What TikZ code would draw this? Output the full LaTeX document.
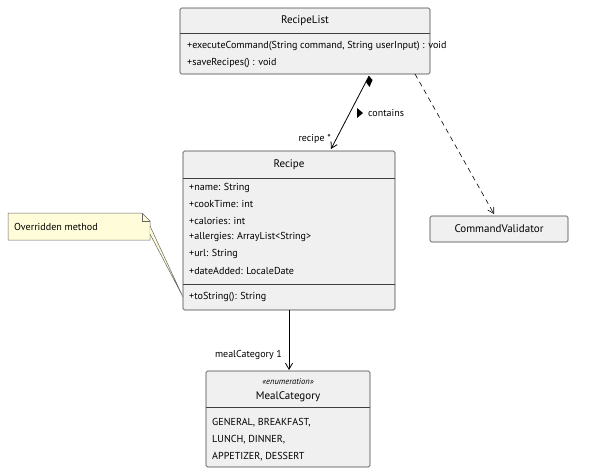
\documentclass[tikz,border=0pt]{standalone}
\usepackage{fontspec}
\setmainfont{PT Sans}
\usetikzlibrary{arrows.meta}
\begin{document}
\begin{tikzpicture}[x=1pt,y=-1pt,
  box/.style={draw=black!75,fill=black!6,rounded corners=1.5pt,line width=0.6pt},
  txt/.style={anchor=west,inner sep=0pt,font=\fontsize{10.1}{12}\selectfont},
  ttl/.style={inner sep=0pt,font=\fontsize{11}{13}\selectfont},
  lbl/.style={inner sep=0pt,font=\fontsize{10}{12}\selectfont}]
\useasboundingbox (0,0) rectangle (616,474);
% RecipeList
\draw[box] (180,8) rectangle (430,74);
\draw[black!75,line width=0.6pt] (180,33)--(430,33);
\node[ttl] (rlt) at (305,21) {RecipeList};
\node[txt] (rl1) at (187,46) {+executeCommand(String command, String userInput) : void};
\node[txt] (rl2) at (187,63) {+saveRecipes() : void};
% Recipe
\draw[box] (183,151) rectangle (395,310);
\draw[black!75,line width=0.6pt] (183,178)--(395,178) (183,284)--(395,284);
\node[ttl] (rt) at (289,165) {Recipe};
\foreach \t [count=\i] in {+name: String,+cookTime: int,+calories: int,+allergies: ArrayList<String>,+url: String,+dateAdded: LocaleDate}
  \node[txt] (ra\i) at (189,171+16.6*\i) {\t};
\node[txt] (rm) at (189,297) {+toString(): String};
% CommandValidator
\draw[box] (430,216) rectangle (568,242);
\node[ttl] (cv) at (499,229) {CommandValidator};
% MealCategory
\draw[box] (206,371) rectangle (370,467);
\draw[black!75,line width=0.6pt] (206,407)--(370,407);
\node[lbl,font=\itshape\fontsize{8.5}{10}\selectfont] (st) at (288,382) {«enumeration»};
\node[ttl] (mc) at (288,397) {MealCategory};
\node[txt] (m1) at (212,423) {GENERAL, BREAKFAST,};
\node[txt] (m2) at (212,440) {LUNCH, DINNER,};
\node[txt] (m3) at (212,457) {APPETIZER, DESSERT};
% note
\draw[fill=yellow!15!white,draw=black!60,line width=0.5pt] (8,213)--(142,213)--(150,221)--(150,240)--(8,240)--cycle;
\draw[draw=black!60,line width=0.5pt] (142,213)--(142,221)--(150,221);
\node[txt] (nt) at (14,227) {Overridden method};
\draw[draw=black!60,fill=yellow!15!white,line width=0.5pt] (150,226)--(183,297)--(150,234);
% connectors
\coordinate (c1) at (369,76);
\coordinate (c2) at (331,149);
\draw[line width=0.8pt,-{Straight Barb[length=6pt,width=7pt]}] (c1)--(c2);
\fill (369,76)--(372.5,80)--(369.5,87)--(366,82)--cycle;
\node[lbl,anchor=west] (ct) at (368,113) {contains};
\fill (357,108)--(363,113)--(357,118)--cycle;
\node[lbl,anchor=east] (rs) at (331,139) {recipe *};
\coordinate (d1) at (415,74);
\coordinate (d2) at (494,214);
\draw[line width=0.6pt,dash pattern=on 5pt off 4pt,-{Straight Barb[length=6pt,width=7pt]}] (d1)--(d2);
\coordinate (e1) at (289,310);
\coordinate (e2) at (289,370);
\draw[line width=0.8pt,-{Straight Barb[length=6pt,width=7pt]}] (e1)--(e2);
\node[lbl,anchor=east] (mc1) at (282,355) {mealCategory 1};
\end{tikzpicture}
\end{document}
